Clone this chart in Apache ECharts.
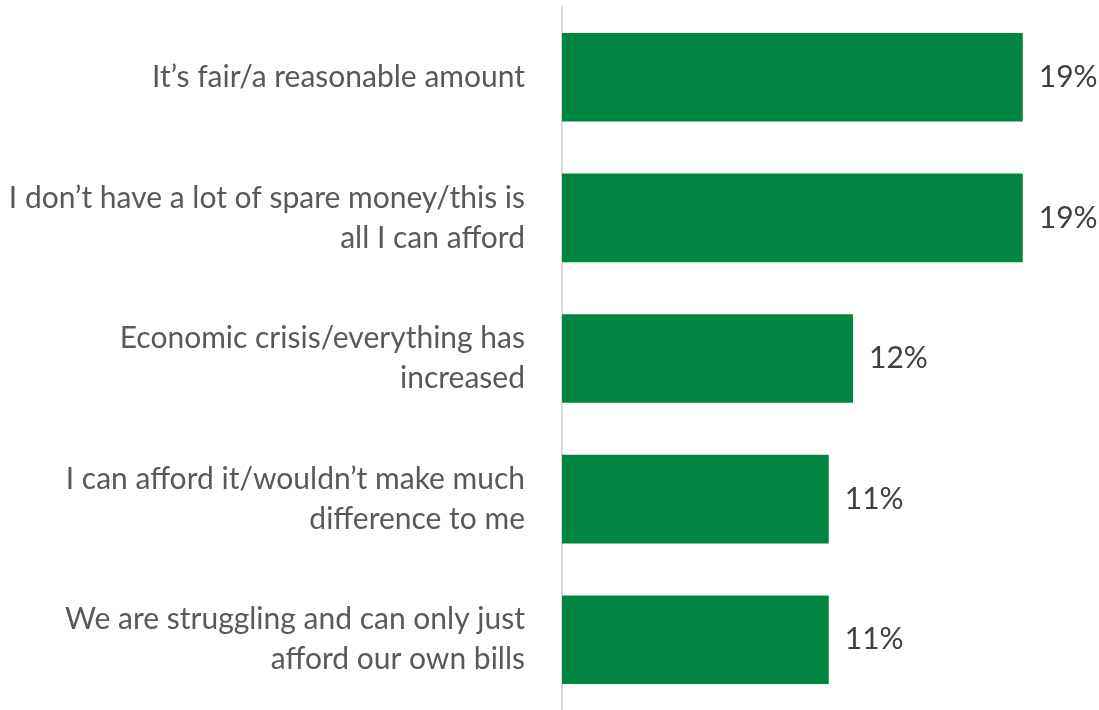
<!DOCTYPE html>
<html>
<head>
<meta charset="utf-8">
<script src="https://cdn.jsdelivr.net/npm/echarts@6/dist/echarts.min.js"></script>
<style>
  html, body { margin: 0; padding: 0; background: #ffffff; }
  #chart { width: 1099px; height: 710px; }
</style>
</head>
<body>
<div id="chart"></div>
<script>
// Reasons given, top to bottom
const categories = [
  'It\u2019s fair/a reasonable amount',
  'I don\u2019t have a lot of spare money/this is\nall I can afford',
  'Economic crisis/everything has\nincreased',
  'I can afford it/wouldn\u2019t make much\ndifference to me',
  'We are struggling and can only just\nafford our own bills'
];
// Share of respondents (%)
const values = [19, 19, 12, 11, 11];

const textFont = 'Lato';
const chart = echarts.init(document.getElementById('chart'));
chart.setOption({
  animation: false,
  grid: { left: 562, right: 52, top: 7, bottom: -6, containLabel: false },
  xAxis: {
    type: 'value', min: 0, max: 20, show: false
  },
  yAxis: {
    type: 'category',
    data: categories,
    inverse: true,
    axisLine: { show: true, lineStyle: { color: '#d9d9d9', width: 2 } },
    axisTick: { show: false },
    axisLabel: {
      margin: 37,
      color: '#595959',
      fontFamily: textFont,
      fontSize: 30,
      lineHeight: 40,
      align: 'right'
    }
  },
  series: [{
    type: 'bar',
    data: values,
    barWidth: '63%',
    itemStyle: { color: '#008542' },
    label: {
      show: true,
      position: 'right',
      distance: 16,
      formatter: '{c}%',
      color: '#404040',
      fontFamily: textFont,
      fontSize: 30
    }
  }]
});
</script>
</body>
</html>
